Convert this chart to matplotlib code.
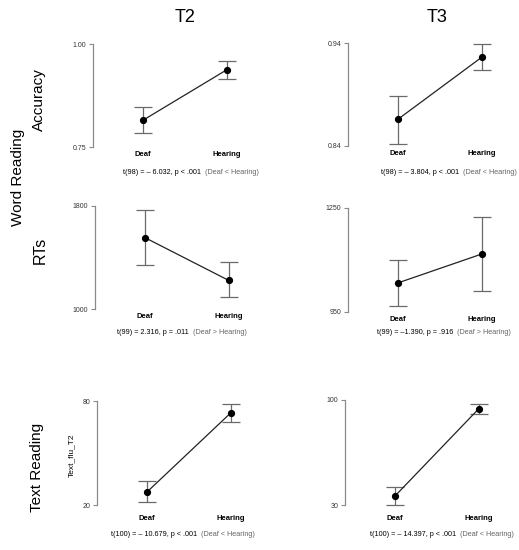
import matplotlib.pyplot as plt

plt.rcParams['font.family'] = ['Liberation Sans', 'DejaVu Sans']

W, H = 519, 550

groups = ['Deaf', 'Hearing']

# means and error bar ends (Deaf, Hearing)
acc_t2_mean = [0.815, 0.937]
acc_t2_low = [0.784, 0.916]
acc_t2_high = [0.846, 0.959]

acc_t3_mean = [0.866, 0.926]
acc_t3_low = [0.842, 0.914]
acc_t3_high = [0.889, 0.939]

rt_t2_mean = [1554, 1223]
rt_t2_low = [1338, 1092]
rt_t2_high = [1769, 1362]

rt_t3_mean = [1034, 1117]
rt_t3_low = [967, 1011]
rt_t3_high = [1100, 1224]

text_t2_mean = [27.5, 73.0]
text_t2_low = [21.7, 67.9]
text_t2_high = [33.8, 78.3]

text_t3_mean = [36.0, 94.0]
text_t3_low = [30.0, 90.7]
text_t3_high = [42.0, 97.3]

ylims = [(0.75, 1.00), (0.84, 0.94), (1000, 1800), (950, 1250), (20, 80), (30, 100)]
yticklabels = [['0.75', '1.00'], ['0.84', '0.94'], ['1000', '1800'],
               ['950', '1250'], ['20', '80'], ['30', '100']]

stats = ['t(98) = \u2013 6.032, p < .001', 't(98) = \u2013 3.804, p < .001',
         't(99) = 2.316, p = .011', 't(99) = \u20131.390, p = .916',
         't(100) = \u2013 10.679, p < .001', 't(100) = \u2013 14.397, p < .001']
directions = ['(Deaf < Hearing)', '(Deaf < Hearing)', '(Deaf > Hearing)',
              '(Deaf > Hearing)', '(Deaf < Hearing)', '(Deaf < Hearing)']

panels = [
    (acc_t2_mean, acc_t2_low, acc_t2_high),
    (acc_t3_mean, acc_t3_low, acc_t3_high),
    (rt_t2_mean, rt_t2_low, rt_t2_high),
    (rt_t3_mean, rt_t3_low, rt_t3_high),
    (text_t2_mean, text_t2_low, text_t2_high),
    (text_t3_mean, text_t3_low, text_t3_high),
]

# pixel layout: (axis x, top y, bottom y, stats split x, stats y, xlabel pad)
layout = [
    (93, 44, 147, 201, 173, 3),
    (348, 43, 146, 459, 173, 3),
    (95, 206, 309, 189, 333, 3),
    (348, 208, 312, 453, 333, 3),
    (97, 401, 505, 197, 535, 7),
    (345, 400, 505, 456, 535, 7),
]

fig = plt.figure(figsize=(W / 100, H / 100), dpi=100)

unit = 83.5   # px between Deaf and Hearing
lead = 50     # px between axis line and Deaf
width = 155

for (mean, low, high), lim, tl, st, dr, (ax_x, top, bot, sx, sy, pad) in zip(
        panels, ylims, yticklabels, stats, directions, layout):
    ax = fig.add_axes([ax_x / W, 1 - bot / H, width / W, (bot - top) / H])
    x0 = 1 - lead / unit
    ax.set_xlim(x0, x0 + width / unit)
    ax.set_ylim(*lim)
    xs = [1, 2]
    err = [[m - l for m, l in zip(mean, low)], [h - m for m, h in zip(mean, high)]]
    ax.errorbar(xs, mean, yerr=err, fmt='none', ecolor='#6a6a6a', elinewidth=0.9,
                capsize=6.5, capthick=0.9, clip_on=False)
    ax.plot(xs, mean, color='#222222', lw=0.9, marker='o', ms=4.2,
            mfc='black', mec='black', clip_on=False, zorder=3)
    for s in ['top', 'right', 'bottom']:
        ax.spines[s].set_visible(False)
    ax.spines['left'].set_color('#8a8a8a')
    ax.spines['left'].set_linewidth(0.9)
    ax.set_yticks(lim)
    ax.set_yticklabels(tl)
    ax.tick_params(axis='y', length=3, width=0.8, color='#8a8a8a', labelsize=5,
                   labelcolor='#333333', pad=2)
    ax.set_xticks(xs)
    ax.set_xticklabels(groups, fontweight='bold')
    ax.tick_params(axis='x', length=0, labelsize=5.5, pad=pad)
    ax.patch.set_visible(False)

    fig.text(sx / W, 1 - sy / H, st, fontsize=5.2, ha='right', va='center')
    fig.text((sx + 4) / W, 1 - sy / H, dr, fontsize=5.2, ha='left', va='center',
             color='#666666')

fig.text(185 / W, 1 - 17 / H, 'T2', fontsize=13, ha='center', va='center')
fig.text(437 / W, 1 - 17 / H, 'T3', fontsize=13, ha='center', va='center')

fig.text(39 / W, 1 - 100 / H, 'Accuracy', fontsize=11, rotation=90, ha='center', va='center')
fig.text(40 / W, 1 - 250 / H, 'RTs', fontsize=11.5, rotation=90, ha='center', va='center')
fig.text(18 / W, 1 - 177 / H, 'Word Reading', fontsize=11, rotation=90, ha='center', va='center')
fig.text(37 / W, 1 - 467 / H, 'Text Reading', fontsize=11, rotation=90, ha='center', va='center')
fig.text(72 / W, 1 - 455 / H, 'Text_flu_T2', fontsize=6, rotation=90, ha='center', va='center')

fig.savefig('out.png', dpi=100, facecolor='white')
